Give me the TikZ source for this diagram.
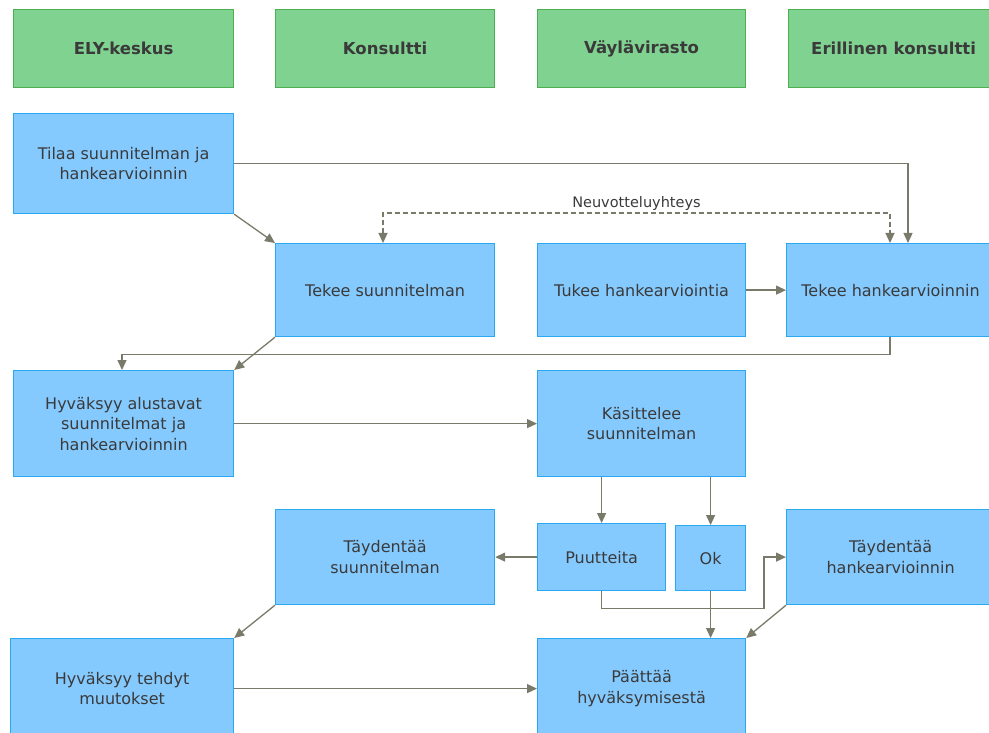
\documentclass[tikz,border=0pt]{standalone}
\usepackage{fontspec}
\setmainfont{DejaVu Sans}
\usetikzlibrary{arrows.meta,positioning,calc}
\definecolor{lanegreen}{HTML}{80D291}
\definecolor{laneborder}{HTML}{4CAF50}
\definecolor{taskblue}{HTML}{85CAFF}
\definecolor{taskborder}{HTML}{2AA8F2}
\definecolor{flowgray}{HTML}{7A7A6A}
\definecolor{textgray}{HTML}{3A3A3A}
\tikzset{
  lane/.style={
    draw=laneborder,
    fill=lanegreen,
    line width=1.2pt,
    rectangle,
    anchor=north west,
    inner sep=0pt,
    minimum height=78pt,
    text=textgray,
    font=\fontsize{16.5}{19}\selectfont\bfseries
  },
  task/.style={
    draw=taskborder,
    fill=taskblue,
    line width=1.2pt,
    rectangle,
    anchor=north west,
    inner sep=0pt,
    align=center,
    text=textgray,
    font=\fontsize{16}{20.5}\selectfont
  },
  flow/.style={
    draw=flowgray,
    line width=1.3pt,
    -{Triangle[length=10pt,width=9pt]}
  },
  dashflow/.style={
    flow,
    line width=1.1pt,
    dash pattern=on 5pt off 3pt,
    {Triangle[length=10pt,width=9pt]}-{Triangle[length=10pt,width=9pt]}
  }
}

\begin{document}
\begin{tikzpicture}[x=1pt, y=1pt]
    \useasboundingbox (0,0) rectangle (989,-733);

    % lanes
    \node [lane, minimum width=220pt] (ely) at (13,-9) {ELY-keskus};
    \node [lane, minimum width=219pt] (konsultti) at (275,-9) {Konsultti};
    \node [lane, minimum width=208pt] (vayla) at (537,-9) {Väylävirasto};
    \node [lane, minimum width=210pt] (erillinen) at (788,-9) {Erillinen konsultti};

    % tasks
    \node [task, minimum width=220pt, minimum height=100pt] (tilaa) at (13,-113) {Tilaa suunnitelman ja\\hankearvioinnin};

    \node [task, minimum width=219pt, minimum height=93pt] (tekeesuun) at (275,-243) {Tekee suunnitelman};
    \node [task, minimum width=208pt, minimum height=93pt] (tukee) at (537,-243) {Tukee hankearviointia};
    \node [task, minimum width=208pt, minimum height=93pt] (tekeehank) at (786,-243) {Tekee hankearvioinnin};

    \node [task, minimum width=220pt, minimum height=106pt] (hyvalust) at (13,-370) {Hyväksyy alustavat\\suunnitelmat ja\\hankearvioinnin};
    \node [task, minimum width=208pt, minimum height=106pt] (kasittelee) at (537,-370) {Käsittelee\\suunnitelman};

    \node [task, minimum width=219pt, minimum height=95pt] (taydsuun) at (275,-509) {Täydentää\\suunnitelman};
    \node [task, minimum width=128pt, minimum height=67pt] (puutteita) at (537,-523) {Puutteita};
    \node [task, minimum width=70pt, minimum height=65pt] (ok) at (675,-525) {Ok};
    \node [task, minimum width=208pt, minimum height=95pt] (taydhank) at (786,-509) {Täydentää\\hankearvioinnin};

    \node [task, minimum width=223pt, minimum height=100pt] (hyvtehdyt) at (10,-638) {Hyväksyy tehdyt\\muutokset};
    \node [task, minimum width=208pt, minimum height=100pt] (paattaa) at (537,-638) {Päättää\\hyväksymisestä};

    % connectors
    \draw [flow] (tilaa.east) -| ([xshift=122pt]tekeehank.north west);
    \draw [flow] (tilaa.south east) -- (tekeesuun.north west);
    \draw [dashflow] ([xshift=108pt]tekeesuun.north west) |- node [pos=0.75, above, text=textgray, font=\fontsize{14.5}{17}\selectfont, inner sep=2pt] {Neuvotteluyhteys} ([xshift=104pt, yshift=30pt]tekeehank.north west) -- ([xshift=104pt]tekeehank.north west);
    \draw [flow] (tukee.east) -- (tekeehank.west);

    \draw [flow] (tekeesuun.south west) -- (hyvalust.north east);
    \draw [flow] ([xshift=104pt]tekeehank.south west) -- ++(0,-17) -| ([xshift=109pt]hyvalust.north west);
    \draw [flow] (hyvalust.east) -- (kasittelee.west);

    \draw [flow] (puutteita.north |- kasittelee.south) -- (puutteita.north);
    \draw [flow] (ok.north |- kasittelee.south) -- (ok.north);
    \draw [flow] (puutteita.west) -- (taydsuun.east);
    \coordinate (bend) at ($(puutteita.south)+(0,-17)$);
    \draw [flow] (puutteita.south) -- (bend) -| ([xshift=-22pt]taydhank.west) -- (taydhank.west);
    \draw [flow] (ok.south) -- (ok.south |- paattaa.north);
    \draw [flow] (taydhank.south west) -- (paattaa.north east);

    \draw [flow] (taydsuun.south west) -- (hyvtehdyt.north east);
    \draw [flow] (hyvtehdyt.east) -- (paattaa.west);
  \end{tikzpicture}
\end{document}
